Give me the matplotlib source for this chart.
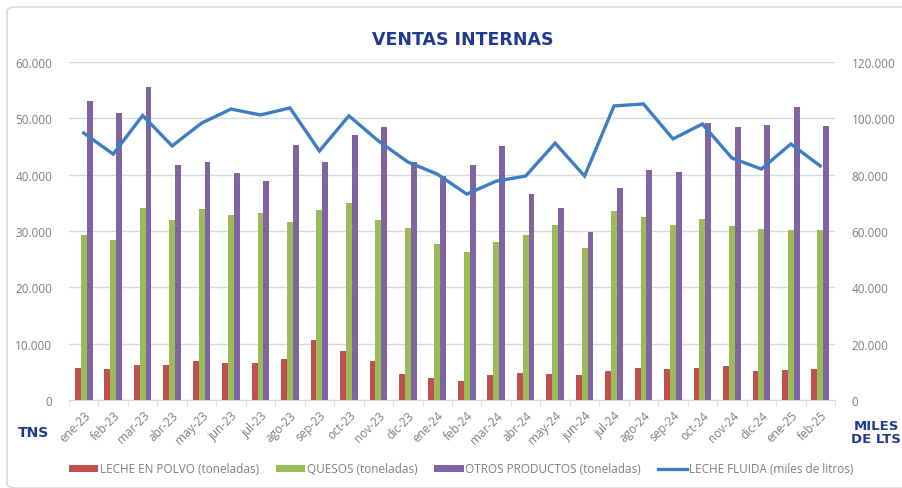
import matplotlib
matplotlib.use("Agg")
import matplotlib.pyplot as plt
import numpy as np
from matplotlib.ticker import FuncFormatter, FixedLocator
from matplotlib.patches import FancyBboxPatch

meses = ["ene-23", "feb-23", "mar-23", "abr-23", "may-23", "jun-23", "jul-23",
         "ago-23", "sep-23", "oct-23", "nov-23", "dic-23", "ene-24", "feb-24",
         "mar-24", "abr-24", "may-24", "jun-24", "jul-24", "ago-24", "sep-24",
         "oct-24", "nov-24", "dic-24", "ene-25", "feb-25"]

leche_polvo = [5630, 5500, 6160, 6160, 6870, 6630, 6520, 7280, 10660, 8650,
               6870, 4620, 3850, 3430, 4490, 4850, 4620, 4380, 5200, 5630,
               5500, 5630, 6040, 5200, 5330, 5500]
quesos = [29300, 28400, 34100, 31950, 33900, 32850, 33200, 31600, 33750, 34970,
          31950, 30550, 27700, 26300, 28050, 29300, 31050, 26980, 33550, 32480,
          31050, 32130, 30900, 30350, 30200, 30200]
otros = [53100, 51000, 55600, 41700, 42200, 40300, 38900, 45300, 42300, 47000,
         48500, 42300, 39700, 41800, 45100, 36600, 34100, 29800, 37600, 40800,
         40500, 49200, 48400, 48800, 52100, 48600]
leche_fluida = [94800, 87300, 101000, 90200, 98300, 103300, 101200, 103700,
                88400, 100900, 92000, 84500, 80200, 73100, 77700, 79500, 91200,
                79500, 104400, 105100, 92700, 98000, 85900, 82000, 90900, 83100]

ROJO = "#C0504D"
VERDE = "#9BBB59"
VIOLETA = "#8064A2"
AZUL = "#3F7DC2"
NAVY = "#1F3A8F"
GRIS = "#7F7F7F"
FONT = "Open Sans"


def miles(v, pos):
    return f"{int(round(v)):,}".replace(",", ".")


fig = plt.figure(figsize=(9.03, 4.89), dpi=100)
fig.patch.set_facecolor("white")

# marco claro alrededor del gráfico
fig.patches.append(FancyBboxPatch((7 / 903, 0.0), 1.2, 1 - 8 / 489,
                                  boxstyle="round,pad=0,rounding_size=0.01",
                                  transform=fig.transFigure, fill=False,
                                  edgecolor="#D9D9D9", lw=1.2))

ax = fig.add_axes([69 / 903, 1 - 401 / 489, (835 - 69) / 903, (401 - 63) / 489])
ax2 = ax.twinx()

x = np.arange(len(meses))
w = 0.2
ax.bar(x - w, leche_polvo, w, color=ROJO, label="LECHE EN POLVO (toneladas)", zorder=3)
ax.bar(x, quesos, w, color=VERDE, label="QUESOS (toneladas)", zorder=3)
ax.bar(x + w, otros, w, color=VIOLETA, label="OTROS PRODUCTOS (toneladas)", zorder=3)
ax2.plot(x, leche_fluida, color=AZUL, lw=2.4, label="LECHE FLUIDA (miles de litros)",
         solid_joinstyle="miter", zorder=4)

ax.set_xlim(-0.5, len(meses) - 0.5)
ax.set_ylim(0, 60000)
ax2.set_ylim(0, 120000)
ax.set_yticks(np.arange(0, 60001, 10000))
ax2.set_yticks(np.arange(0, 120001, 20000))
ax.yaxis.set_major_formatter(FuncFormatter(miles))
ax2.yaxis.set_major_formatter(FuncFormatter(miles))
ax.grid(axis="y", color="#D9D9D9", lw=1, zorder=0)

for a in (ax, ax2):
    for s in ("top", "left", "right"):
        a.spines[s].set_visible(False)
    a.spines["bottom"].set_color("#D9D9D9")
ax2.spines["bottom"].set_visible(False)

ax.tick_params(axis="y", length=0, labelsize=8.5, labelcolor=GRIS, pad=12)
ax2.tick_params(axis="y", length=0, labelsize=8.5, labelcolor=GRIS, pad=12)

ax.set_xticks(x)
ax.set_xticklabels(meses, rotation=45, ha="right", rotation_mode="anchor",
                   fontsize=8.5, color=GRIS, family=FONT)
ax.tick_params(axis="x", which="major", length=0, pad=6)
ax.xaxis.set_minor_locator(FixedLocator(np.arange(-0.5, len(meses), 1)))
ax.tick_params(axis="x", which="minor", length=4, color="#D9D9D9")
for lab in ax.get_yticklabels() + ax2.get_yticklabels():
    lab.set_family(FONT)

fig.text(463 / 903, 1 - 40 / 489, "VENTAS INTERNAS", ha="center", va="center",
         fontsize=12.5, fontweight="bold", color=NAVY, family="DejaVu Sans")
fig.text(33 / 903, 1 - 433 / 489, "TNS", ha="center", va="center",
         fontsize=10, fontweight="bold", color=NAVY, family="DejaVu Sans")
fig.text(876 / 903, 1 - 433 / 489, "MILES\nDE LTS", ha="center", va="center",
         fontsize=9.5, fontweight="bold", color=NAVY, family="DejaVu Sans",
         linespacing=1.0)

h1, l1 = ax.get_legend_handles_labels()
h2, l2 = ax2.get_legend_handles_labels()
fig.legend(h1 + h2, l1 + l2, loc="center", bbox_to_anchor=(461 / 903, 1 - 470 / 489),
           ncol=4, frameon=False, prop={"family": FONT, "size": 8.5},
           labelcolor=GRIS, handlelength=2.5, handleheight=0.6,
           handletextpad=0.15, columnspacing=1.4)

fig.savefig("out.png", dpi=100)
